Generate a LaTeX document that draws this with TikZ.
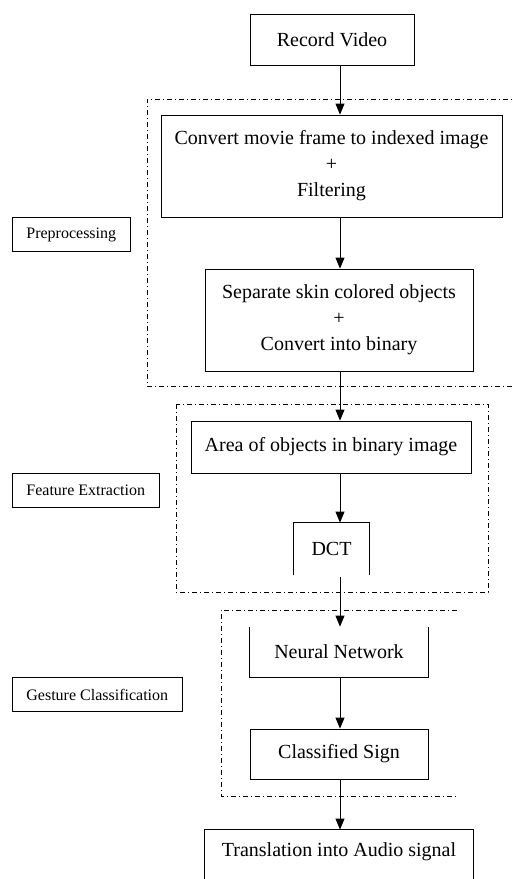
\documentclass[tikz,border=0pt]{standalone}
\usepackage{fontspec}
\setmainfont{Liberation Serif}
\usepackage{tikz}
\usetikzlibrary{positioning,arrows.meta}

\newcommand{\boxfont}{\fontsize{20}{26}\selectfont}
\newcommand{\tagfont}{\fontsize{16}{19}\selectfont}

\begin{document}
\begin{tikzpicture}[x=1pt,y=-1pt,line width=0.8pt,
    >={Triangle[length=11pt,width=9pt]},
    stage/.style={draw,align=center,font=\boxfont,inner sep=0pt},
    openstage/.style={align=center,font=\boxfont,inner sep=0pt},
    phase/.style={draw,anchor=west,font=\tagfont,inner xsep=14pt,minimum height=34pt},
    group/.style={line width=0.5pt,dash pattern=on 5pt off 3pt on 1pt off 3pt}]
  \clip (0,0) rectangle (513,879);
  \coordinate (axis) at (340,0);
  % main stages
  \node[stage,minimum width=164pt,minimum height=51pt] (rec) at (332,39.5) {Record Video};
  \node[stage,minimum width=341pt,minimum height=102pt] (conv) at (331.5,166) {Convert movie frame to indexed image\\+\\Filtering};
  \node[stage,minimum width=268pt,minimum height=102pt] (skin) at (339,320) {Separate skin colored objects\\+\\Convert into binary};
  \node[stage,minimum width=280pt,minimum height=52pt] (area) at (331,447) {Area of objects in binary image};
  \node[openstage,minimum width=75pt,minimum height=52pt] (dct) at (331.5,549) {DCT};
  \node[openstage,minimum width=178pt,minimum height=50pt] (nn) at (339,652) {Neural Network};
  \node[stage,minimum width=178pt,minimum height=50pt] (sign) at (339,754) {Classified Sign};
  \node[openstage,minimum width=268pt,minimum height=44pt] (audio) at (339,852) {Translation into Audio signal};
  \draw (dct.south west) |- (dct.north east) -- (dct.south east);
  \draw (nn.north west) |- (nn.south east) -- (nn.north east);
  \draw ([yshift=-20pt]audio.south west) |- (audio.north east) -- ([yshift=-20pt]audio.south east);
  % phase groups
  \draw[group] (520,99) -| (147,386) -- (520,386);
  \draw[group] (176,404) rectangle (488,592);
  \draw[group] (457,610) -| (221,796) -- (457,796);
  \node[phase] (pre) at (12,234.5) {Preprocessing};
  \node[phase] (feat) at (12,490) {Feature Extraction};
  \node[phase] (gest) at (12,694.5) {Gesture Classification};
  % flow
  \draw[->] (rec.south -| axis) -- (conv.north -| axis);
  \draw[->] (conv.south -| axis) -- (skin.north -| axis);
  \draw[->] (skin.south -| axis) -- (area.north -| axis);
  \draw[->] (area.south -| axis) -- (dct.north -| axis);
  \draw[->] ([yshift=-2pt]dct.south -| axis) -- (nn.north -| axis);
  \draw[->] (nn.south -| axis) -- (sign.north -| axis);
  \draw[->] (sign.south -| axis) -- (audio.north -| axis);
\end{tikzpicture}
\end{document}
